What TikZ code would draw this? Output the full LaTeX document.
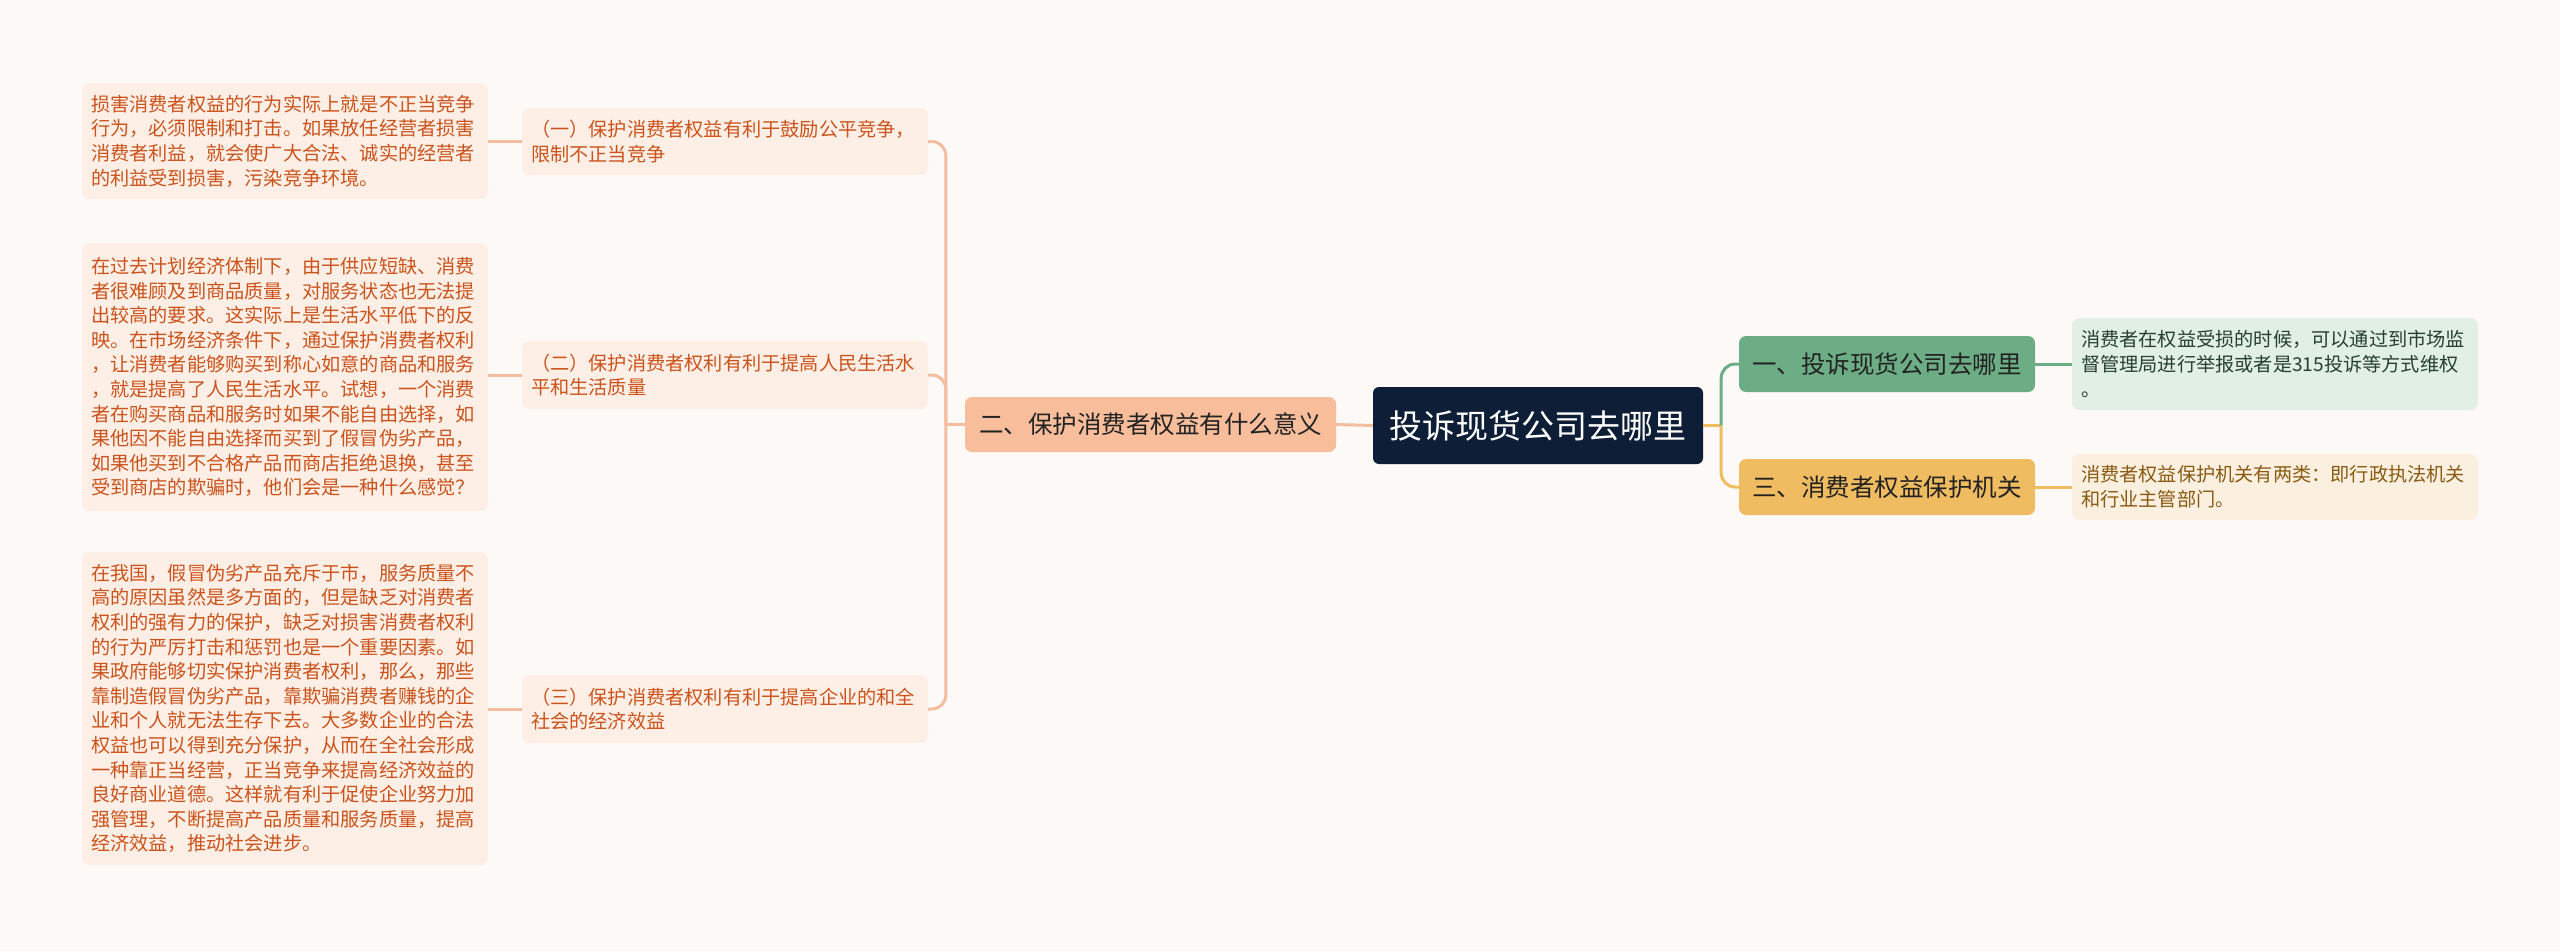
\documentclass[tikz,border=0pt]{standalone}
\usepackage{fontspec}
\usetikzlibrary{calc}
\newfontfamily\cjk{Noto Sans CJK SC}
\definecolor{bg}{HTML}{FDF9F7}
\definecolor{navy}{HTML}{0E1E36}
\definecolor{peach}{HTML}{F8BE9C}
\definecolor{peachline}{HTML}{F3BEA0}
\definecolor{cream}{HTML}{FDEFE6}
\definecolor{rust}{HTML}{CB531B}
\definecolor{sage}{HTML}{6DAD85}
\definecolor{mint}{HTML}{E1EFE5}
\definecolor{pine}{HTML}{27402F}
\definecolor{amber}{HTML}{F0BC62}
\definecolor{sand}{HTML}{FBF0E0}
\definecolor{umber}{HTML}{8A5A12}
\definecolor{ink}{HTML}{222222}
\newcommand{\rootfont}{\fontsize{33}{40}\selectfont}
\newcommand{\headfont}{\fontsize{24.5}{30}\selectfont}
\newcommand{\bodyfont}{\fontsize{19.2}{24.6}\selectfont}

\begin{document}
\begin{tikzpicture}[x=1pt,y=-1pt,font=\cjk,
  rootbox/.style={fill=navy,text=white,rounded corners=6pt,inner sep=0pt,minimum width=330pt,minimum height=77pt,font=\cjk\rootfont},
  headbox/.style={rounded corners=7pt,inner sep=0pt,minimum height=56pt,text=ink,font=\cjk\headfont},
  textbox/.style={rounded corners=8pt,inner xsep=9pt,inner ysep=0pt,text width=388pt,align=left,font=\cjk\bodyfont},
  link/.style={line width=3pt}]
\useasboundingbox[fill=bg] (0,0) rectangle (2560,951);
\node[rootbox] (root) at (1538,425.5) {投诉现货公司去哪里};
\node[headbox,fill=peach,minimum width=371pt,minimum height=55pt] (two) at (1150.5,424.5) {二、保护消费者权益有什么意义};
\node[headbox,fill=sage,minimum width=296pt] (one) at (1887,364) {一、投诉现货公司去哪里};
\node[headbox,fill=amber,minimum width=296pt] (three) at (1887,487) {三、消费者权益保护机关};
\node[textbox,fill=mint,text=pine,minimum height=92pt] (leafone) at (2275,364) {消费者在权益受损的时候，可以通过到市场监\\督管理局进行举报或者是315投诉等方式维权\\。};
\node[textbox,fill=sand,text=umber,minimum height=66pt] (leafthree) at (2275,487) {消费者权益保护机关有两类：即行政执法机关\\和行业主管部门。};
\node[textbox,fill=cream,text=rust,minimum height=67pt] (subone) at (725,141.5) {（一）保护消费者权益有利于鼓励公平竞争，\\限制不正当竞争};
\node[textbox,fill=cream,text=rust,minimum height=68pt] (subtwo) at (725,375) {（二）保护消费者权利有利于提高人民生活水\\平和生活质量};
\node[textbox,fill=cream,text=rust,minimum height=68pt] (subthree) at (725,709) {（三）保护消费者权利有利于提高企业的和全\\社会的经济效益};
\node[textbox,fill=cream,text=rust,minimum height=116pt] (leafa) at (285,141) {损害消费者权益的行为实际上就是不正当竞争\\行为，必须限制和打击。如果放任经营者损害\\消费者利益，就会使广大合法、诚实的经营者\\的利益受到损害，污染竞争环境。};
\node[textbox,fill=cream,text=rust,minimum height=268pt] (leafb) at (285,377) {在过去计划经济体制下，由于供应短缺、消费\\者很难顾及到商品质量，对服务状态也无法提\\出较高的要求。这实际上是生活水平低下的反\\映。在市场经济条件下，通过保护消费者权利\\，让消费者能够购买到称心如意的商品和服务\\，就是提高了人民生活水平。试想，一个消费\\者在购买商品和服务时如果不能自由选择，如\\果他因不能自由选择而买到了假冒伪劣产品，\\如果他买到不合格产品而商店拒绝退换，甚至\\受到商店的欺骗时，他们会是一种什么感觉？};
\node[textbox,fill=cream,text=rust,minimum height=313pt] (leafc) at (285,708.5) {在我国，假冒伪劣产品充斥于市，服务质量不\\高的原因虽然是多方面的，但是缺乏对消费者\\权利的强有力的保护，缺乏对损害消费者权利\\的行为严厉打击和惩罚也是一个重要因素。如\\果政府能够切实保护消费者权利，那么，那些\\靠制造假冒伪劣产品，靠欺骗消费者赚钱的企\\业和个人就无法生存下去。大多数企业的合法\\权益也可以得到充分保护，从而在全社会形成\\一种靠正当经营，正当竞争来提高经济效益的\\良好商业道德。这样就有利于促使企业努力加\\强管理，不断提高产品质量和服务质量，提高\\经济效益，推动社会进步。};
\coordinate (lbus) at ($(two.west)+(-19,0)$);
\coordinate (rbus) at ($(root.east)+(18,0)$);
\draw[link,peachline] (root.west) -- (two.east);
\draw[link,peachline] (two.west) -- (lbus);
\foreach \s in {subone,subtwo,subthree}
  \draw[link,peachline,rounded corners=14pt] (lbus) |- (\s.east);
\draw[link,peachline] (subone.west) -- (subone.west -| leafa.east);
\draw[link,peachline] (subtwo.west) -- (subtwo.west -| leafb.east);
\draw[link,peachline] (subthree.west) -- (subthree.west -| leafc.east);
\draw[link,amber] (root.east) -- (rbus);
\draw[link,sage,rounded corners=14pt] (rbus) |- (one.west);
\draw[link,amber,rounded corners=14pt] (rbus) |- (three.west);
\draw[link,sage] (one.east) -- (leafone.west);
\draw[link,amber] (three.east) -- (leafthree.west);
\end{tikzpicture}
\end{document}
